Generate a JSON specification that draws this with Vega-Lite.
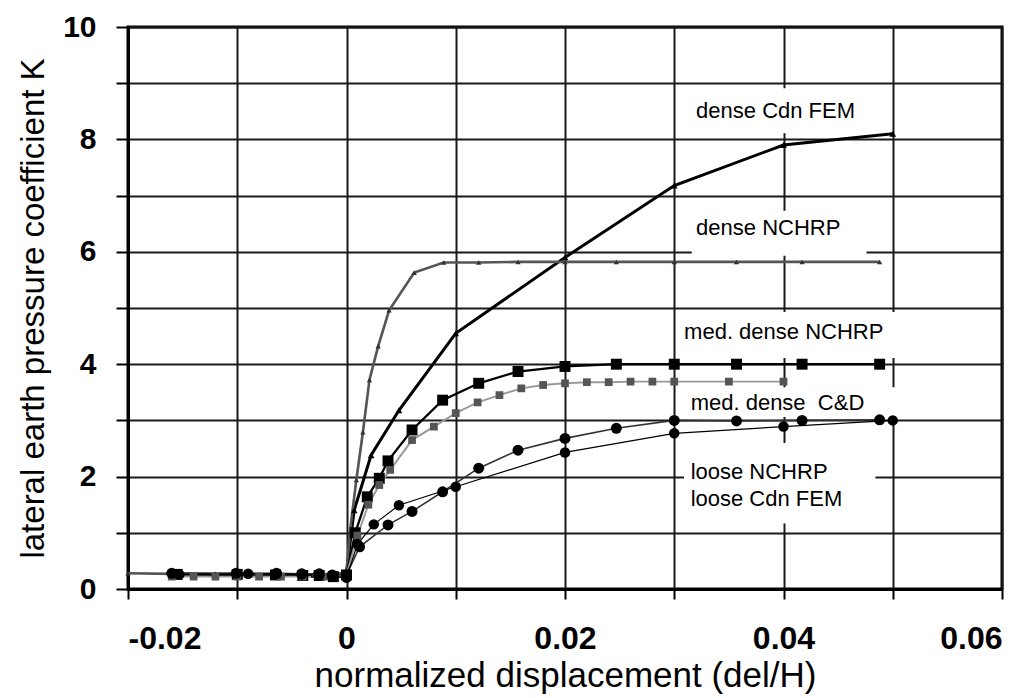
{
  "$schema": "https://vega.github.io/schema/vega-lite/v6.json",
  "width": 874,
  "height": 562,
  "autosize": {"type": "none"},
  "padding": {"left": 128, "top": 27, "right": 30, "bottom": 109},
  "background": "white",
  "config": {
    "font": "Liberation Sans",
    "view": {"stroke": "black", "strokeWidth": 3},
    "axis": {
      "domainColor": "black",
      "domainWidth": 3,
      "gridColor": "#1a1a1a",
      "gridWidth": 2,
      "gridOpacity": 1,
      "tickColor": "black",
      "tickWidth": 2,
      "labelColor": "black",
      "labelFont": "Liberation Sans",
      "labelFontWeight": "bold",
      "titleColor": "black",
      "titleFont": "Liberation Sans",
      "titleFontWeight": "normal"
    }
  },
  "datasets": {
    "series": [
      {"s": "dense Cdn FEM", "x": -0.016, "k": 0.27},
      {"s": "dense Cdn FEM", "x": -0.012, "k": 0.26},
      {"s": "dense Cdn FEM", "x": -0.009, "k": 0.26},
      {"s": "dense Cdn FEM", "x": -0.006, "k": 0.26},
      {"s": "dense Cdn FEM", "x": -0.003, "k": 0.25},
      {"s": "dense Cdn FEM", "x": -0.001, "k": 0.25},
      {"s": "dense Cdn FEM", "x": 0, "k": 0.3},
      {"s": "dense Cdn FEM", "x": 0.0007, "k": 1.4},
      {"s": "dense Cdn FEM", "x": 0.00225, "k": 2.38},
      {"s": "dense Cdn FEM", "x": 0.0048, "k": 3.18},
      {"s": "dense Cdn FEM", "x": 0.01, "k": 4.55},
      {"s": "dense Cdn FEM", "x": 0.02, "k": 5.9},
      {"s": "dense Cdn FEM", "x": 0.03, "k": 7.18},
      {"s": "dense Cdn FEM", "x": 0.04, "k": 7.9},
      {"s": "dense Cdn FEM", "x": 0.05, "k": 8.1},

      {"s": "dense NCHRP", "x": -0.02, "k": 0.28},
      {"s": "dense NCHRP", "x": -0.016, "k": 0.27},
      {"s": "dense NCHRP", "x": -0.01, "k": 0.27},
      {"s": "dense NCHRP", "x": -0.006, "k": 0.26},
      {"s": "dense NCHRP", "x": -0.003, "k": 0.26},
      {"s": "dense NCHRP", "x": -0.001, "k": 0.26},
      {"s": "dense NCHRP", "x": 0, "k": 0.3},
      {"s": "dense NCHRP", "x": 0.0003, "k": 1.0},
      {"s": "dense NCHRP", "x": 0.0009, "k": 1.94},
      {"s": "dense NCHRP", "x": 0.0015, "k": 2.79},
      {"s": "dense NCHRP", "x": 0.0021, "k": 3.72},
      {"s": "dense NCHRP", "x": 0.0029, "k": 4.32},
      {"s": "dense NCHRP", "x": 0.0039, "k": 4.96},
      {"s": "dense NCHRP", "x": 0.0062, "k": 5.63},
      {"s": "dense NCHRP", "x": 0.0089, "k": 5.81},
      {"s": "dense NCHRP", "x": 0.0121, "k": 5.81},
      {"s": "dense NCHRP", "x": 0.0157, "k": 5.82},
      {"s": "dense NCHRP", "x": 0.02, "k": 5.82},
      {"s": "dense NCHRP", "x": 0.0247, "k": 5.82},
      {"s": "dense NCHRP", "x": 0.03, "k": 5.82},
      {"s": "dense NCHRP", "x": 0.0357, "k": 5.82},
      {"s": "dense NCHRP", "x": 0.0417, "k": 5.82},
      {"s": "dense NCHRP", "x": 0.0488, "k": 5.82},

      {"s": "med. dense NCHRP", "x": -0.0155, "k": 0.26},
      {"s": "med. dense NCHRP", "x": -0.01, "k": 0.26},
      {"s": "med. dense NCHRP", "x": -0.0065, "k": 0.25},
      {"s": "med. dense NCHRP", "x": -0.004, "k": 0.24},
      {"s": "med. dense NCHRP", "x": -0.0025, "k": 0.24},
      {"s": "med. dense NCHRP", "x": -0.0012, "k": 0.22},
      {"s": "med. dense NCHRP", "x": 0, "k": 0.25},
      {"s": "med. dense NCHRP", "x": 0.0008, "k": 1.0},
      {"s": "med. dense NCHRP", "x": 0.0019, "k": 1.64},
      {"s": "med. dense NCHRP", "x": 0.003, "k": 1.97},
      {"s": "med. dense NCHRP", "x": 0.0038, "k": 2.28},
      {"s": "med. dense NCHRP", "x": 0.006, "k": 2.83},
      {"s": "med. dense NCHRP", "x": 0.0088, "k": 3.36},
      {"s": "med. dense NCHRP", "x": 0.0121, "k": 3.66},
      {"s": "med. dense NCHRP", "x": 0.0157, "k": 3.87},
      {"s": "med. dense NCHRP", "x": 0.02, "k": 3.96},
      {"s": "med. dense NCHRP", "x": 0.0247, "k": 4.0},
      {"s": "med. dense NCHRP", "x": 0.03, "k": 4.0},
      {"s": "med. dense NCHRP", "x": 0.0357, "k": 4.0},
      {"s": "med. dense NCHRP", "x": 0.0417, "k": 4.0},
      {"s": "med. dense NCHRP", "x": 0.0488, "k": 4.0},

      {"s": "med. dense C&D", "x": -0.016, "k": 0.22},
      {"s": "med. dense C&D", "x": -0.014, "k": 0.22},
      {"s": "med. dense C&D", "x": -0.012, "k": 0.22},
      {"s": "med. dense C&D", "x": -0.01, "k": 0.22},
      {"s": "med. dense C&D", "x": -0.008, "k": 0.22},
      {"s": "med. dense C&D", "x": -0.006, "k": 0.22},
      {"s": "med. dense C&D", "x": -0.004, "k": 0.22},
      {"s": "med. dense C&D", "x": -0.002, "k": 0.22},
      {"s": "med. dense C&D", "x": 0, "k": 0.25},
      {"s": "med. dense C&D", "x": 0.001, "k": 0.95},
      {"s": "med. dense C&D", "x": 0.002, "k": 1.5},
      {"s": "med. dense C&D", "x": 0.003, "k": 1.85},
      {"s": "med. dense C&D", "x": 0.004, "k": 2.12},
      {"s": "med. dense C&D", "x": 0.006, "k": 2.65},
      {"s": "med. dense C&D", "x": 0.008, "k": 2.89},
      {"s": "med. dense C&D", "x": 0.01, "k": 3.13},
      {"s": "med. dense C&D", "x": 0.012, "k": 3.32},
      {"s": "med. dense C&D", "x": 0.014, "k": 3.45},
      {"s": "med. dense C&D", "x": 0.016, "k": 3.57},
      {"s": "med. dense C&D", "x": 0.018, "k": 3.63},
      {"s": "med. dense C&D", "x": 0.02, "k": 3.66},
      {"s": "med. dense C&D", "x": 0.022, "k": 3.68},
      {"s": "med. dense C&D", "x": 0.024, "k": 3.68},
      {"s": "med. dense C&D", "x": 0.026, "k": 3.69},
      {"s": "med. dense C&D", "x": 0.028, "k": 3.69},
      {"s": "med. dense C&D", "x": 0.03, "k": 3.69},
      {"s": "med. dense C&D", "x": 0.035, "k": 3.69},
      {"s": "med. dense C&D", "x": 0.04, "k": 3.69},

      {"s": "loose NCHRP", "x": -0.016, "k": 0.28},
      {"s": "loose NCHRP", "x": -0.0101, "k": 0.28},
      {"s": "loose NCHRP", "x": -0.0064, "k": 0.28},
      {"s": "loose NCHRP", "x": -0.0041, "k": 0.27},
      {"s": "loose NCHRP", "x": -0.0025, "k": 0.27},
      {"s": "loose NCHRP", "x": -0.0013, "k": 0.25},
      {"s": "loose NCHRP", "x": 0, "k": 0.25},
      {"s": "loose NCHRP", "x": 0.0012, "k": 0.75},
      {"s": "loose NCHRP", "x": 0.0038, "k": 1.14},
      {"s": "loose NCHRP", "x": 0.006, "k": 1.38},
      {"s": "loose NCHRP", "x": 0.0088, "k": 1.73},
      {"s": "loose NCHRP", "x": 0.0121, "k": 2.15},
      {"s": "loose NCHRP", "x": 0.0157, "k": 2.47},
      {"s": "loose NCHRP", "x": 0.02, "k": 2.68},
      {"s": "loose NCHRP", "x": 0.0247, "k": 2.86},
      {"s": "loose NCHRP", "x": 0.03, "k": 3.0},
      {"s": "loose NCHRP", "x": 0.0357, "k": 2.99},
      {"s": "loose NCHRP", "x": 0.0417, "k": 3.0},
      {"s": "loose NCHRP", "x": 0.0488, "k": 3.01},

      {"s": "loose Cdn FEM", "x": -0.0153, "k": 0.26},
      {"s": "loose Cdn FEM", "x": -0.009, "k": 0.27},
      {"s": "loose Cdn FEM", "x": -0.0064, "k": 0.27},
      {"s": "loose Cdn FEM", "x": -0.0041, "k": 0.26},
      {"s": "loose Cdn FEM", "x": -0.0025, "k": 0.24},
      {"s": "loose Cdn FEM", "x": -0.0013, "k": 0.22},
      {"s": "loose Cdn FEM", "x": 0, "k": 0.2},
      {"s": "loose Cdn FEM", "x": 0.001, "k": 0.8},
      {"s": "loose Cdn FEM", "x": 0.0025, "k": 1.15},
      {"s": "loose Cdn FEM", "x": 0.0048, "k": 1.49},
      {"s": "loose Cdn FEM", "x": 0.01, "k": 1.82},
      {"s": "loose Cdn FEM", "x": 0.02, "k": 2.43},
      {"s": "loose Cdn FEM", "x": 0.03, "k": 2.77},
      {"s": "loose Cdn FEM", "x": 0.04, "k": 2.89},
      {"s": "loose Cdn FEM", "x": 0.05, "k": 3.0}
    ],
    "labels": [
      {"text": "dense Cdn FEM", "x": 0.032, "k": 8.51, "x0": 0.0313, "x1": 0.0473, "k0": 8.11, "k1": 8.91},
      {"text": "dense NCHRP", "x": 0.032, "k": 6.42, "x0": 0.0316, "x1": 0.0476, "k0": 5.93, "k1": 6.73},
      {"text": "med. dense NCHRP", "x": 0.0309, "k": 4.58, "x0": 0.0304, "x1": 0.0503, "k0": 4.11, "k1": 4.93},
      {"text": "med. dense \u00a0C&D", "x": 0.0315, "k": 3.31, "x0": 0.0311, "x1": 0.0503, "k0": 3.06, "k1": 3.59},
      {"text": "loose NCHRP", "x": 0.0315, "k": 2.09, "x0": 0.0309, "x1": 0.0484, "k0": 1.17, "k1": 2.6},
      {"text": "loose Cdn FEM", "x": 0.0315, "k": 1.6, "x0": 0.0309, "x1": 0.0484, "k0": 1.17, "k1": 2.6}
    ]
  },
  "layer": [
    {
      "data": {"name": "labels"},
      "mark": {"type": "rect", "fill": "white", "stroke": null},
      "encoding": {
        "x": {"field": "x0", "type": "quantitative", "scale": {"domain": [-0.02, 0.06], "nice": false, "zero": false},
          "axis": {
            "values": [-0.02, -0.01, 0, 0.01, 0.02, 0.03, 0.04, 0.05, 0.06],
            "labelExpr": "abs(round(datum.value * 100)) % 2 == 0 ? replace(format(datum.value, '.2~f'), '\u2212', '-') : ''",
            "labelFontSize": 32,
            "labelPadding": 24,
            "tickSize": 10,
            "grid": true,
            "title": "normalized displacement (del/H)",
            "titleFontSize": 35,
            "titlePadding": 4
          }
        },
        "x2": {"field": "x1"},
        "y": {"field": "k0", "type": "quantitative", "scale": {"domain": [0, 10], "nice": false, "zero": true},
          "axis": {
            "values": [0, 1, 2, 3, 4, 5, 6, 7, 8, 9, 10],
            "format": "d",
            "labelExpr": "datum.value % 2 == 0 ? format(datum.value, 'd') : ''",
            "labelFontSize": 30,
            "labelPadding": 20,
            "tickSize": 12,
            "grid": true,
            "title": "lateral earth pressure coefficient K",
            "titleFontSize": 33,
            "titlePadding": 12
          }
        },
        "y2": {"field": "k1"}
      }
    },
    {
      "data": {"name": "series"},
      "mark": {"type": "line", "interpolate": "linear"},
      "encoding": {
        "x": {"field": "x", "type": "quantitative"},
        "y": {"field": "k", "type": "quantitative"},
        "detail": {"field": "s"},
        "stroke": {"field": "s", "type": "nominal", "legend": null,
          "scale": {"domain": ["dense Cdn FEM", "dense NCHRP", "med. dense NCHRP", "med. dense C&D", "loose NCHRP", "loose Cdn FEM"],
            "range": ["#000000", "#555555", "#000000", "#999999", "#333333", "#000000"]}},
        "strokeWidth": {"field": "s", "type": "nominal", "legend": null,
          "scale": {"domain": ["dense Cdn FEM", "dense NCHRP", "med. dense NCHRP", "med. dense C&D", "loose NCHRP", "loose Cdn FEM"],
            "range": [3, 1.2, 2, 1.2, 1.3, 3]}}
      }
    },
    {
      "data": {"name": "series"},
      "mark": {"type": "point", "filled": true, "opacity": 1},
      "encoding": {
        "x": {"field": "x", "type": "quantitative"},
        "y": {"field": "k", "type": "quantitative"},
        "fill": {"field": "s", "type": "nominal", "legend": null,
          "scale": {"domain": ["dense Cdn FEM", "dense NCHRP", "med. dense NCHRP", "med. dense C&D", "loose NCHRP", "loose Cdn FEM"],
            "range": ["#000000", "#333333", "#000000", "#555555", "#000000", "#000000"]}},
        "shape": {"field": "s", "type": "nominal", "legend": null,
          "scale": {"domain": ["dense Cdn FEM", "dense NCHRP", "med. dense NCHRP", "med. dense C&D", "loose NCHRP", "loose Cdn FEM"],
            "range": ["triangle-up", "triangle-up", "square", "square", "circle", "circle"]}},
        "size": {"field": "s", "type": "nominal", "legend": null,
          "scale": {"type": "ordinal", "domain": ["dense Cdn FEM", "dense NCHRP", "med. dense NCHRP", "med. dense C&D", "loose NCHRP", "loose Cdn FEM"],
            "range": [45, 28, 120, 60, 120, 110]}}
      }
    },
    {
      "data": {"name": "labels"},
      "mark": {"type": "text", "align": "left", "baseline": "middle", "fontSize": 22, "font": "Liberation Sans", "color": "black"},
      "encoding": {
        "x": {"field": "x", "type": "quantitative"},
        "y": {"field": "k", "type": "quantitative"},
        "text": {"field": "text"}
      }
    }
  ]
}
